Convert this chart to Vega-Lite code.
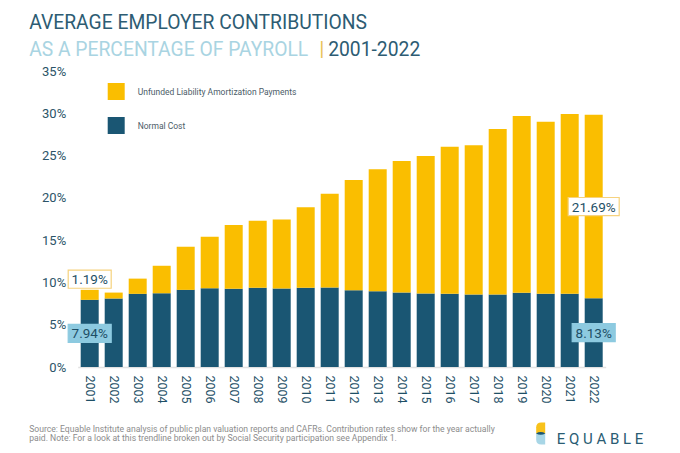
{
  "$schema": "https://vega.github.io/schema/vega-lite/v6.json",
  "description": "Average employer contributions as a percentage of payroll, 2001-2022",
  "autosize": {"type": "none"},
  "padding": {"left": 77.7, "top": 71, "right": 74.3, "bottom": 86},
  "width": 528,
  "height": 296,
  "data": {
    "values": [
      {"year": 2001, "component": "Normal Cost", "value": 7.94},
      {"year": 2001, "component": "Unfunded Liability Amortization Payments", "value": 1.19},
      {"year": 2002, "component": "Normal Cost", "value": 8.1},
      {"year": 2002, "component": "Unfunded Liability Amortization Payments", "value": 0.7},
      {"year": 2003, "component": "Normal Cost", "value": 8.65},
      {"year": 2003, "component": "Unfunded Liability Amortization Payments", "value": 1.8},
      {"year": 2004, "component": "Normal Cost", "value": 8.72},
      {"year": 2004, "component": "Unfunded Liability Amortization Payments", "value": 3.25},
      {"year": 2005, "component": "Normal Cost", "value": 9.12},
      {"year": 2005, "component": "Unfunded Liability Amortization Payments", "value": 5.1},
      {"year": 2006, "component": "Normal Cost", "value": 9.32},
      {"year": 2006, "component": "Unfunded Liability Amortization Payments", "value": 6.08},
      {"year": 2007, "component": "Normal Cost", "value": 9.24},
      {"year": 2007, "component": "Unfunded Liability Amortization Payments", "value": 7.55},
      {"year": 2008, "component": "Normal Cost", "value": 9.36},
      {"year": 2008, "component": "Unfunded Liability Amortization Payments", "value": 7.93},
      {"year": 2009, "component": "Normal Cost", "value": 9.28},
      {"year": 2009, "component": "Unfunded Liability Amortization Payments", "value": 8.17},
      {"year": 2010, "component": "Normal Cost", "value": 9.36},
      {"year": 2010, "component": "Unfunded Liability Amortization Payments", "value": 9.52},
      {"year": 2011, "component": "Normal Cost", "value": 9.4},
      {"year": 2011, "component": "Unfunded Liability Amortization Payments", "value": 11.09},
      {"year": 2012, "component": "Normal Cost", "value": 9.08},
      {"year": 2012, "component": "Unfunded Liability Amortization Payments", "value": 13.03},
      {"year": 2013, "component": "Normal Cost", "value": 8.96},
      {"year": 2013, "component": "Unfunded Liability Amortization Payments", "value": 14.42},
      {"year": 2014, "component": "Normal Cost", "value": 8.81},
      {"year": 2014, "component": "Unfunded Liability Amortization Payments", "value": 15.55},
      {"year": 2015, "component": "Normal Cost", "value": 8.69},
      {"year": 2015, "component": "Unfunded Liability Amortization Payments", "value": 16.26},
      {"year": 2016, "component": "Normal Cost", "value": 8.65},
      {"year": 2016, "component": "Unfunded Liability Amortization Payments", "value": 17.4},
      {"year": 2017, "component": "Normal Cost", "value": 8.57},
      {"year": 2017, "component": "Unfunded Liability Amortization Payments", "value": 17.65},
      {"year": 2018, "component": "Normal Cost", "value": 8.57},
      {"year": 2018, "component": "Unfunded Liability Amortization Payments", "value": 19.58},
      {"year": 2019, "component": "Normal Cost", "value": 8.77},
      {"year": 2019, "component": "Unfunded Liability Amortization Payments", "value": 20.92},
      {"year": 2020, "component": "Normal Cost", "value": 8.65},
      {"year": 2020, "component": "Unfunded Liability Amortization Payments", "value": 20.36},
      {"year": 2021, "component": "Normal Cost", "value": 8.65},
      {"year": 2021, "component": "Unfunded Liability Amortization Payments", "value": 21.28},
      {"year": 2022, "component": "Normal Cost", "value": 8.13},
      {"year": 2022, "component": "Unfunded Liability Amortization Payments", "value": 21.69}
    ]
  },
  "encoding": {
    "x": {
      "field": "year",
      "type": "ordinal",
      "scale": {"paddingInner": 0.25, "paddingOuter": 0.125},
      "axis": {
        "title": null,
        "labelAngle": 90,
        "labelFontSize": 12.5,
        "labelColor": "#1E4F66",
        "labelPadding": 8,
        "ticks": false,
        "domainColor": "#E2E2E2",
        "domainWidth": 1.5
      }
    }
  },
  "layer": [
    {
      "mark": {"type": "bar"},
      "encoding": {
        "y": {
          "field": "value",
          "type": "quantitative",
          "stack": "zero",
          "scale": {"domain": [0, 35], "nice": false},
          "axis": {
            "title": null,
            "values": [0, 5, 10, 15, 20, 25, 30, 35],
            "labelExpr": "datum.value + '%'",
            "labelFontSize": 13,
            "labelColor": "#2C5468",
            "labelPadding": 12,
            "ticks": false,
            "domain": false,
            "grid": false
          }
        },
        "color": {
          "field": "component",
          "type": "nominal",
          "scale": {
            "domain": ["Unfunded Liability Amortization Payments", "Normal Cost"],
            "range": ["#FABE00", "#1A5673"]
          },
          "legend": {
            "title": null,
            "orient": "none",
            "legendX": 30,
            "legendY": 12,
            "padding": 0,
            "symbolType": "square",
            "symbolSize": 289,
            "symbolStrokeWidth": 0,
            "symbolOpacity": 1,
            "rowPadding": 17,
            "labelOffset": 13,
            "labelFontSize": 8.5,
            "labelColor": "#4C5C68",
            "labelLimit": 300
          }
        },
        "order": {"field": "component", "sort": "ascending"}
      }
    },
    {
      "transform": [
        {"filter": "datum.year == 2001 || datum.year == 2022"},
        {"stack": "value", "groupby": ["year"], "sort": [{"field": "component", "order": "ascending"}], "as": ["v0", "v1"]},
        {"calculate": "datum.v1 - datum.v0 < 3 ? datum.v1 + 1.25 : (datum.v0 + datum.v1) / 2", "as": "ly"},
        {"calculate": "datum.ly - 1.07", "as": "ly0"},
        {"calculate": "datum.ly + 1.07", "as": "ly1"},
        {"calculate": "format(datum.value, '.2f') + '%'", "as": "label"}
      ],
      "layer": [
        {
          "transform": [{"filter": "length(datum.label) == 5"}],
          "mark": {"type": "bar", "width": 43, "strokeWidth": 1.2},
          "encoding": {
            "y": {"field": "ly0", "type": "quantitative"},
            "y2": {"field": "ly1"},
            "fill": {"condition": {"test": "datum.component == 'Normal Cost'", "value": "#8DCAE0"}, "value": "#FFFFFF"},
            "stroke": {"condition": {"test": "datum.component == 'Normal Cost'", "value": "#8DCAE0"}, "value": "#F6D27E"}
          }
        },
        {
          "transform": [{"filter": "length(datum.label) == 6"}],
          "mark": {"type": "bar", "width": 51, "strokeWidth": 1.2},
          "encoding": {
            "y": {"field": "ly0", "type": "quantitative"},
            "y2": {"field": "ly1"},
            "fill": {"condition": {"test": "datum.component == 'Normal Cost'", "value": "#8DCAE0"}, "value": "#FFFFFF"},
            "stroke": {"condition": {"test": "datum.component == 'Normal Cost'", "value": "#8DCAE0"}, "value": "#F6D27E"}
          }
        },
        {
          "mark": {"type": "text", "fontSize": 13.5, "color": "#1E4F66", "baseline": "middle", "dy": 1},
          "encoding": {
            "y": {"field": "ly", "type": "quantitative"},
            "text": {"field": "label"}
          }
        }
      ]
    },
    {
      "data": {"values": [{"line": "AVERAGE EMPLOYER CONTRIBUTIONS"}]},
      "mark": {"type": "text", "align": "left", "baseline": "alphabetic", "fontSize": 19.3, "fontWeight": 400, "color": "#2D5C73", "dx": -60.5},
      "encoding": {
        "x": {"datum": 2001, "type": "ordinal"},
        "y": {"datum": 39.93, "type": "quantitative"},
        "text": {"field": "line"}
      }
    },
    {
      "data": {"values": [{"line": "AS A PERCENTAGE OF PAYROLL"}]},
      "mark": {"type": "text", "align": "left", "baseline": "alphabetic", "fontSize": 19.3, "fontWeight": 400, "color": "#A9D4E2", "dx": -60.5},
      "encoding": {
        "x": {"datum": 2001, "type": "ordinal"},
        "y": {"datum": 36.81, "type": "quantitative"},
        "text": {"field": "line"}
      }
    },
    {
      "data": {"values": [{"line": "|"}]},
      "mark": {"type": "text", "align": "left", "baseline": "alphabetic", "fontSize": 21, "fontWeight": 400, "color": "#E9C25A", "dx": 229.5},
      "encoding": {
        "x": {"datum": 2001, "type": "ordinal"},
        "y": {"datum": 36.81, "type": "quantitative"},
        "text": {"field": "line"}
      }
    },
    {
      "data": {"values": [{"line": "2001-2022"}]},
      "mark": {"type": "text", "align": "left", "baseline": "alphabetic", "fontSize": 19.3, "fontWeight": 400, "color": "#2D5C73", "dx": 238.5},
      "encoding": {
        "x": {"datum": 2001, "type": "ordinal"},
        "y": {"datum": 36.81, "type": "quantitative"},
        "text": {"field": "line"}
      }
    },
    {
      "data": {"values": [{"note": ["Source: Equable Institute analysis of public plan valuation reports and CAFRs. Contribution rates show for the year actually", "paid. Note: For a look at this trendline broken out by Social Security participation see Appendix 1."]}]},
      "mark": {"type": "text", "align": "left", "baseline": "alphabetic", "fontSize": 8.6, "lineHeight": 9, "color": "#8C8C8C", "dx": -60.5},
      "encoding": {
        "x": {"datum": 2001, "type": "ordinal"},
        "y": {"datum": -7.7, "type": "quantitative"},
        "text": {"field": "note"}
      }
    },
    {
      "data": {"values": [{"brand": "E Q U A B L E"}]},
      "mark": {"type": "text", "align": "left", "baseline": "alphabetic", "fontSize": 15, "color": "#2A5C73", "dx": -37},
      "encoding": {
        "x": {"datum": 2022, "type": "ordinal"},
        "y": {"datum": -9.15, "type": "quantitative"},
        "text": {"field": "brand"}
      }
    },
    {
      "data": {"values": [{"part": "top"}]},
      "mark": {"type": "point", "filled": true, "opacity": 1, "size": 121, "color": "#F8C21B", "xOffset": -53, "shape": "M-0.82,0 L-0.82,-1.1 Q-0.82,-2 0.1,-2 L0.82,-2 L0.82,0 Z"},
      "encoding": {
        "x": {"datum": 2022, "type": "ordinal"},
        "y": {"datum": -7.85, "type": "quantitative"}
      }
    },
    {
      "data": {"values": [{"part": "bottom"}]},
      "mark": {"type": "point", "filled": true, "opacity": 1, "size": 121, "color": "#A8D6E6", "xOffset": -53, "shape": "M-0.82,0 L-0.82,1.1 Q-0.82,2 0.1,2 L0.82,2 L0.82,0 Z"},
      "encoding": {
        "x": {"datum": 2022, "type": "ordinal"},
        "y": {"datum": -7.85, "type": "quantitative"}
      }
    },
    {
      "data": {"values": [{"part": "eye"}]},
      "mark": {"type": "point", "filled": true, "opacity": 1, "size": 121, "color": "#1A5673", "xOffset": -53, "shape": "M-0.85,0 Q0,-0.5 0.85,0 Q0,0.5 -0.85,0 Z"},
      "encoding": {
        "x": {"datum": 2022, "type": "ordinal"},
        "y": {"datum": -7.85, "type": "quantitative"}
      }
    }
  ],
  "config": {
    "font": "Roboto",
    "view": {"stroke": null}
  }
}
